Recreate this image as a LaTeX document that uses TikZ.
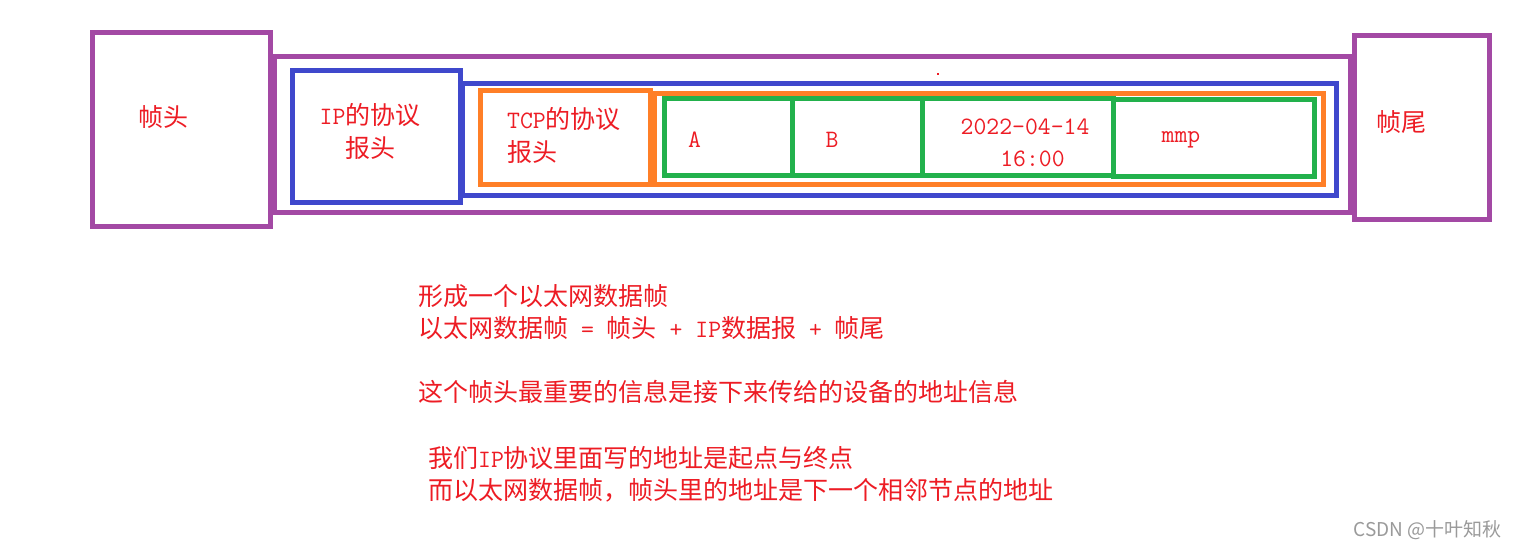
\documentclass[tikz,border=0pt]{standalone}
\usepackage{fontspec}
\setmainfont{Noto Sans CJK SC}
\usetikzlibrary{positioning}
\definecolor{framepurple}{HTML}{A349A4}
\definecolor{ipblue}{HTML}{3F48CC}
\definecolor{tcporange}{HTML}{FF7F27}
\definecolor{datagreen}{HTML}{22B14C}
\definecolor{notered}{HTML}{ED1C24}
\definecolor{markgray}{HTML}{9A9A9A}
\newcommand{\en}[1]{{\ttfamily #1}}

\begin{document}
\begin{tikzpicture}[
    x = 1pt, y = -1pt,
    node distance = 0pt,
    layer/.style = {draw, rectangle, line width=5pt, inner sep=0pt, outer sep=0pt},
    framebox/.style = {layer, draw=framepurple},
    ipbox/.style = {layer, draw=ipblue},
    tcpbox/.style = {layer, draw=tcporange},
    fieldbox/.style = {layer, draw=datagreen, minimum height=76.5pt},
    redtext/.style = {text=notered, inner sep=0pt, font=\fontsize{25pt}{33pt}\selectfont},
    notetext/.style = {redtext, anchor=west},
    watermark/.style = {text=markgray, inner sep=0pt, font=\fontsize{19pt}{19pt}\selectfont}
]
    \path [use as bounding box, fill=white] (0,0) rectangle (1518,549);

    % Boxes
    \node [framebox, minimum width=178pt, minimum height=193.5pt, anchor=north west] (head) at (92.5,32.5) {};
    \node [framebox, minimum width=1076pt, minimum height=156pt, anchor=north west] (ipdgram) at (274.5,56.5) {};
    \node [framebox, minimum width=135pt, minimum height=184pt, anchor=north west] (tail) at (1354.5,35.5) {};
    \node [ipbox, minimum width=168pt, minimum height=132pt, anchor=north west] (iphead) at (292.5,70.5) {};
    \node [ipbox, minimum width=874pt, minimum height=112pt, anchor=north west] (ipdata) at (462.5,83) {};
    \node [tcpbox, minimum width=170pt, minimum height=94pt, anchor=north west] (tcphead) at (480.5,90.5) {};
    \node [tcpbox, minimum width=669.5pt, minimum height=91.5pt, anchor=north west] (tcpdata) at (654,93) {};
    \node [fieldbox, minimum width=127.5pt, anchor=north west] (src) at (664.5,98.5) {};
    \node [fieldbox, minimum width=130pt, right=of src] (dst) {};
    \node [fieldbox, minimum width=191pt, right=of dst] (stamp) {};
    \node [fieldbox, minimum width=201.5pt, right=of stamp, yshift=-1pt] (msg) {};
    \fill [notered] (937,73) rectangle (939,75);

    % Labels
    \node [redtext] (headtext) at (163,117) {帧头};
    \node [redtext, align=center] (iptext) at (370,131.5) {\en{IP}的协议\\报头};
    \node [redtext, align=left, anchor=west] (tcptext) at (507,135.5) {\en{TCP}的协议\\报头};
    \node [redtext, anchor=base] (srctext) at (694.5,147) {\en{A}};
    \node [redtext, anchor=base] (dsttext) at (832,147) {\en{B}};
    \node [redtext, anchor=base] (datetext) at (1025,134) {\en{2022-04-14}};
    \node [redtext, anchor=base] (clocktext) at (1032.5,166) {\en{16:00}};
    \node [redtext, anchor=base] (msgtext) at (1181,142) {\en{mmp}};
    \node [redtext] (tailtext) at (1401,122) {帧尾};

    % Notes
    \node [notetext] (summary) at (418,296) {形成一个以太网数据帧};
    \node [notetext] (formula) at (418,328) {以太网数据帧\en{ = }帧头\en{ + IP}数据报\en{ + }帧尾};
    \node [notetext] (header) at (418,392) {这个帧头最重要的信息是接下来传给的设备的地址信息};
    \node [notetext] (ipaddr) at (428,458) {我们\en{IP}协议里面写的地址是起点与终点};
    \node [notetext] (macaddr) at (428,490) {而以太网数据帧，帧头里的地址是下一个相邻节点的地址};

    \node [watermark] (credit) at (1427.5,530) {CSDN @十叶知秋};

\end{tikzpicture}
\end{document}
